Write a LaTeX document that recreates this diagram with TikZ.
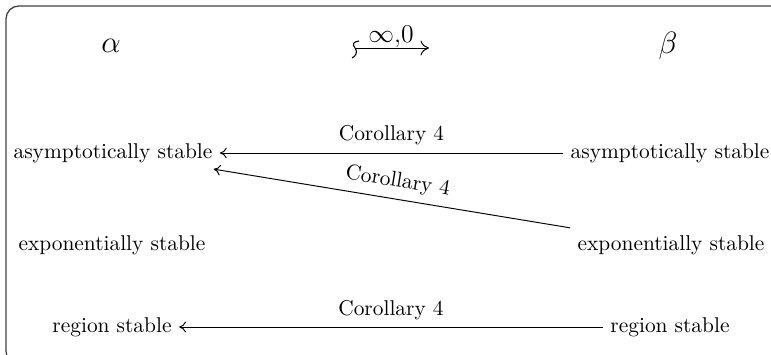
\documentclass[tikz,border=0pt]{standalone}
\usetikzlibrary{arrows.meta}
\begin{document}
\begin{tikzpicture}[x=0.4673pt,y=-0.4673pt,
  lbl/.style={inner sep=3.33pt},
  imp/.style={{To[length=3.2pt,width=5pt]}-, line width=0.45pt},
  top/.style={font=\Large}]
\useasboundingbox (0,0) rectangle (771,355);
\draw[black!75, line width=0.6pt, rounded corners=6pt] (6,6) rectangle (800,364);
% header
\node[top] (al) at (111,46) {$\alpha$};
\node[top] (be) at (668,46) {$\beta$};
\coordinate (ts) at (355,48);
\coordinate (te) at (429,48);
\draw[-{To[length=4pt,width=7pt]}, line width=0.45pt] (ts) -- (te);
\draw[line width=0.5pt] (ts) ++(4,-7) .. controls +(-6,1) and +(-3,-4) .. (ts)
  .. controls +(3,4) and +(4,-2) .. ++(-3,10);
\node[inner sep=0pt] (inf) at (391,37) {\large$\infty{,}0$};
% rows
\node[lbl] (a1) at (113,153) {asymptotically stable};
\node[lbl] (a2) at (670,153) {asymptotically stable};
\node[lbl] (e1) at (112,245) {exponentially stable};
\node[lbl] (e2) at (671,245) {exponentially stable};
\node[lbl] (r1) at (112,327) {region stable};
\node[lbl] (r2) at (670,327) {region stable};
\draw[imp] (a1) -- node[above] {Corollary 4} (a2);
\draw[imp, shorten <=-3pt] (a1.south east) -- node[above, sloped] {Corollary 4} (e2.north west);
\draw[imp] (r1) -- node[above] {Corollary 4} (r2);
\end{tikzpicture}
\end{document}
